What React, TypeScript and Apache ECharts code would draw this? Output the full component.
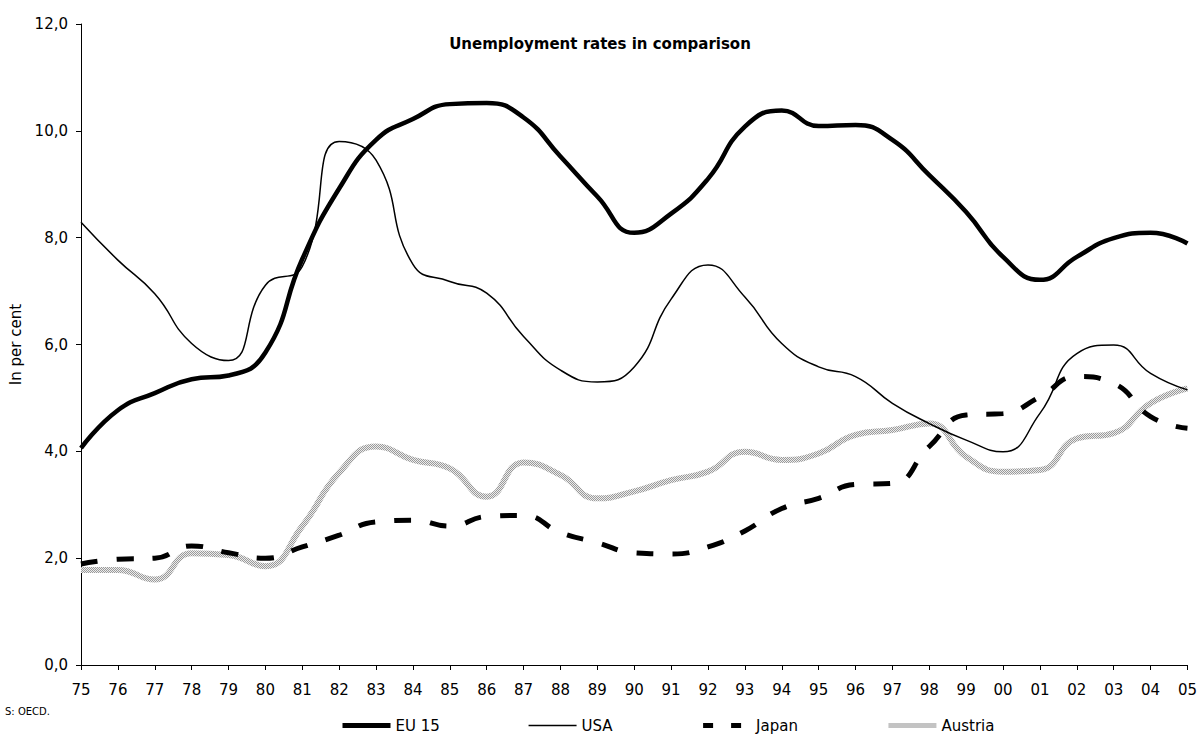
import React, { useEffect, useRef } from "react";
import * as echarts from "echarts";

const years = ["75","76","77","78","79","80","81","82","83","84","85","86","87","88","89","90","91","92","93","94","95","96","97","98","99","00","01","02","03","04","05"];

const eu15 = [4.06, 4.77, 5.09, 5.35, 5.42, 5.85, 7.6, 8.92, 9.83, 10.22, 10.5, 10.52, 10.25, 9.52, 8.77, 8.09, 8.45, 9.1, 10.08, 10.38, 10.09, 10.11, 9.83, 9.17, 8.48, 7.64, 7.21, 7.64, 7.99, 8.09, 7.89];
const usa = [8.29, 7.58, 6.95, 6.02, 5.7, 7.11, 7.46, 9.8, 9.45, 7.5, 7.18, 6.96, 6.15, 5.52, 5.3, 5.58, 6.85, 7.49, 6.89, 6.02, 5.58, 5.4, 4.9, 4.52, 4.21, 3.99, 4.71, 5.83, 5.99, 5.46, 5.15];
const japan = [1.89, 1.98, 2.0, 2.23, 2.1, 2.0, 2.21, 2.43, 2.68, 2.71, 2.6, 2.78, 2.8, 2.48, 2.29, 2.1, 2.08, 2.21, 2.51, 2.93, 3.12, 3.38, 3.4, 4.09, 4.68, 4.71, 5.02, 5.4, 5.27, 4.65, 4.43];
const austria = [1.78, 1.78, 1.6, 2.09, 2.06, 1.85, 2.6, 3.6, 4.09, 3.84, 3.68, 3.15, 3.79, 3.56, 3.12, 3.25, 3.46, 3.62, 3.99, 3.84, 3.96, 4.31, 4.4, 4.52, 3.9, 3.62, 3.65, 4.24, 4.34, 4.9, 5.18];

const FONT = "DejaVu Sans";

function makePattern(): any {
  const c = document.createElement("canvas");
  c.width = 2;
  c.height = 2;
  const ctx = c.getContext("2d")!;
  ctx.fillStyle = "#ececec";
  ctx.fillRect(0, 0, 2, 2);
  ctx.fillStyle = "#9a9a9a";
  ctx.fillRect(0, 0, 1, 1);
  ctx.fillRect(1, 1, 1, 1);
  return { image: c.toDataURL(), repeat: "repeat" };
}

export default function App() {
  const ref = useRef<HTMLDivElement>(null);
  useEffect(() => {
    if (!ref.current) return;
    const chart = echarts.init(ref.current, null, { renderer: "svg" });
    const pattern = makePattern();
    chart.setOption({
      animation: false,
      backgroundColor: "#ffffff",
      textStyle: { fontFamily: FONT },
      title: {
        text: "Unemployment rates in comparison",
        left: "center",
        top: 31,
        textStyle: { fontFamily: FONT, fontSize: 15, fontWeight: "bold", color: "#000" },
      },
      grid: { left: 81, right: 12, top: 24, bottom: 75, containLabel: false },
      legend: {
        left: 335,
        top: 713,
        itemWidth: 48,
        itemHeight: 14,
        itemGap: 88,
        itemStyle: { opacity: 0 },
        textStyle: { fontFamily: FONT, fontSize: 15, color: "#000" },
        data: [
          { name: "EU 15", lineStyle: { width: 5, color: "#000" } },
          { name: "USA", lineStyle: { width: 1.5, color: "#000" } },
          { name: "Japan", lineStyle: { width: 5, color: "#000", type: [10, 18], cap: "butt" } },
          { name: "Austria", lineStyle: { width: 5, color: pattern } },
        ],
      },
      xAxis: {
        type: "category",
        data: years,
        boundaryGap: false,
        axisLine: { lineStyle: { color: "#000", width: 1 } },
        axisTick: { show: true, inside: false, length: 5, interval: 0, lineStyle: { color: "#000" } },
        axisLabel: { interval: 0, margin: 17, fontFamily: FONT, fontSize: 15, color: "#000" },
        splitLine: { show: false },
      },
      yAxis: {
        type: "value",
        min: 0,
        max: 12,
        interval: 2,
        name: "In per cent",
        nameLocation: "middle",
        nameGap: 52,
        nameTextStyle: { fontFamily: FONT, fontSize: 15, color: "#000" },
        axisLine: { show: true, lineStyle: { color: "#000", width: 1 } },
        axisTick: { show: true, length: 5, lineStyle: { color: "#000" } },
        axisLabel: {
          margin: 13,
          fontFamily: FONT,
          fontSize: 15,
          color: "#000",
          formatter: (v: number) => v.toFixed(1).replace(".", ","),
        },
        splitLine: { show: false },
      },
      graphic: [
        {
          type: "text",
          left: 5,
          top: 706,
          style: { text: "S: OECD.", fontFamily: FONT, fontSize: 10, fill: "#000" },
        },
      ],
      series: [
        {
          name: "Austria",
          type: "line",
          data: austria,
          smooth: 0.5,
          symbol: "none",
          z: 1,
          lineStyle: { width: 6, color: pattern },
          itemStyle: { color: "#aaaaaa" },
        },
        {
          name: "Japan",
          type: "line",
          data: japan,
          smooth: 0.5,
          symbol: "none",
          z: 2,
          lineStyle: { width: 5, color: "#000", type: [17, 19], cap: "butt" },
          itemStyle: { color: "#000" },
        },
        {
          name: "USA",
          type: "line",
          data: usa,
          smooth: 0.5,
          symbol: "none",
          z: 3,
          lineStyle: { width: 1.5, color: "#000" },
          itemStyle: { color: "#000" },
        },
        {
          name: "EU 15",
          type: "line",
          data: eu15,
          smooth: 0.5,
          symbol: "none",
          z: 4,
          lineStyle: { width: 4.5, color: "#000" },
          itemStyle: { color: "#000" },
        },
      ],
    });
    return () => chart.dispose();
  }, []);
  return <div ref={ref} style={{ width: 1200, height: 740, position: "absolute", left: 0, top: 0 }} />;
}
